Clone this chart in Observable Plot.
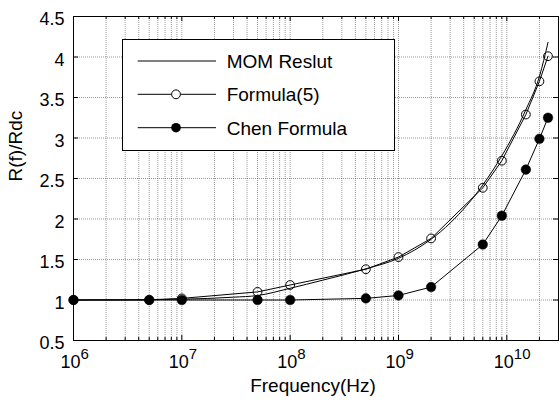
<!DOCTYPE html>
<html><head><meta charset="utf-8">
<script src="https://cdn.jsdelivr.net/npm/d3@7"></script>
<script src="https://cdn.jsdelivr.net/npm/@observablehq/plot@0.6"></script>
<style>body{margin:0;background:#fff} svg{display:block}</style>
</head><body><div id="chart"></div>
<script>
// ---- data ----
const seriesNames = ["MOM Reslut", "Formula(5)", "Chen Formula"];
const freq     = [1e6, 5e6, 1e7, 5e7, 1e8, 5e8, 1e9, 2e9, 6e9, 9e9, 1.5e10, 2e10, 2.4e10];
const formula5 = [1.0, 1.0, 1.02, 1.10, 1.185, 1.38, 1.53, 1.76, 2.385, 2.72, 3.29, 3.70, 4.01];
const chen     = [1.0, 1.0, 1.0, 1.0, 1.0, 1.02, 1.056, 1.16, 1.685, 2.04, 2.61, 2.99, 3.25];
const momFreq  = [1e6, 1e7, 3e7, 5e7, 1e8, 2e8, 5e8, 1e9, 2e9, 3e9, 6e9, 9e9, 1.5e10, 2e10, 2.4e10];
const mom      = [1.0, 1.01, 1.035, 1.055, 1.145, 1.245, 1.385, 1.515, 1.75, 1.95, 2.42, 2.78, 3.35, 3.76, 4.18];
const yTicks   = [0.5, 1, 1.5, 2, 2.5, 3, 3.5, 4, 4.5];
const xMajor   = [1e6, 1e7, 1e8, 1e9, 1e10];
const xExp     = ["6", "7", "8", "9", "10"];
const xMinor   = [6, 7, 8, 9, 10].flatMap(e => [2,3,4,5,6,7,8,9].map(m => m * 10 ** e)).filter(v => v <= 3e10);
const xDomain  = [1e6, 3e10];
const yDomain  = [0.5, 4.5];

const fData = freq.map((f, i) => ({f, v: formula5[i]}));
const cData = freq.map((f, i) => ({f, v: chen[i]}));
const mData = momFreq.map((f, i) => ({f, v: mom[i]}));

// ---- layout ----
const W = 560, H = 403, mL = 73, mR = 2, mT = 16, mB = 63;
const pW = W - mL - mR, pH = H - mT - mB;
const font = "'Liberation Sans', Arial, Helvetica, sans-serif";
const grid = {stroke: "#000", strokeOpacity: 0.4, strokeDasharray: "1,1", strokeWidth: 1};

const chart = Plot.plot({
  width: W, height: H,
  marginLeft: mL, marginRight: mR, marginTop: mT, marginBottom: mB,
  style: {fontFamily: font, fontSize: "18px", background: "#fff", color: "#000"},
  x: {type: "log", domain: xDomain, axis: null},
  y: {domain: yDomain, axis: null},
  marks: [
    Plot.ruleX([...xMajor, ...xMinor], {x: d => d, ...grid}),
    Plot.ruleY(yTicks, {y: d => d, ...grid}),
    // inward ticks
    Plot.ruleX(xMajor, {x: d => d, insetTop: pH - 5, stroke: "#000"}),
    Plot.ruleX(xMajor, {x: d => d, insetBottom: pH - 5, stroke: "#000"}),
    Plot.ruleX(xMinor, {x: d => d, insetTop: pH - 3, stroke: "#000"}),
    Plot.ruleX(xMinor, {x: d => d, insetBottom: pH - 3, stroke: "#000"}),
    Plot.ruleY(yTicks, {y: d => d, insetRight: pW - 5, stroke: "#000"}),
    Plot.ruleY(yTicks, {y: d => d, insetLeft: pW - 5, stroke: "#000"}),
    Plot.frame({stroke: "#000", strokeWidth: 1}),
    // y tick labels
    Plot.text(yTicks, {y: d => d, frameAnchor: "left", text: d => String(d), textAnchor: "end", dx: -9, dy: 3, fontSize: 18}),
    // x tick labels 10^n
    Plot.text(xMajor, {x: d => d, frameAnchor: "bottom", text: () => "10", textAnchor: "middle", dx: -3, dy: 27.5, fontSize: 18}),
    Plot.text(xMajor, {x: d => d, frameAnchor: "bottom", text: (d, i) => xExp[i], textAnchor: "start", dx: 7, dy: 18.9, fontSize: 15}),
    // axis labels
    Plot.text(["Frequency(Hz)"], {frameAnchor: "bottom", text: d => d, dx: -3, dy: 51, fontSize: 19}),
    Plot.text(["R(f)/Rdc"], {frameAnchor: "left", text: d => d, rotate: -90, dx: -58, dy: 3, fontSize: 19}),
    // data
    Plot.line(mData, {x: "f", y: "v", stroke: "#000", strokeWidth: 1, curve: "monotone-x"}),
    Plot.line(fData, {x: "f", y: "v", stroke: "#000", strokeWidth: 1}),
    Plot.dot(fData, {x: "f", y: "v", r: 4.4, stroke: "#000", strokeWidth: 1, fill: "none"}),
    Plot.line(cData, {x: "f", y: "v", stroke: "#000", strokeWidth: 1}),
    Plot.dot(cData, {x: "f", y: "v", r: 4.8, fill: "#000", stroke: "#000", strokeWidth: 0.5})
  ]
});

// ---- legend (inside plot, upper left) ----
const svg = d3.select(chart);
const lg = svg.append("g").attr("font-family", font).attr("font-size", 19).attr("text-anchor", "start");
lg.append("rect").attr("x", 122.5).attr("y", 39.5).attr("width", 272).attr("height", 111)
  .attr("fill", "#fff").attr("stroke", "#000").attr("stroke-width", 1);
const rows = [61, 94.3, 127.7];
seriesNames.forEach((name, i) => {
  const yy = rows[i];
  lg.append("line").attr("x1", 137.7).attr("x2", 216).attr("y1", yy).attr("y2", yy)
    .attr("stroke", "#000").attr("stroke-width", 1);
  if (i === 1) lg.append("circle").attr("cx", 176).attr("cy", yy).attr("r", 4.4)
    .attr("fill", "#fff").attr("stroke", "#000");
  if (i === 2) lg.append("circle").attr("cx", 176).attr("cy", yy).attr("r", 4.8).attr("fill", "#000");
  lg.append("text").attr("x", 226.7).attr("y", yy + 7).attr("text-anchor", "start").attr("fill", "#000").text(name);
});

document.getElementById("chart").append(chart);
</script>
</body></html>
